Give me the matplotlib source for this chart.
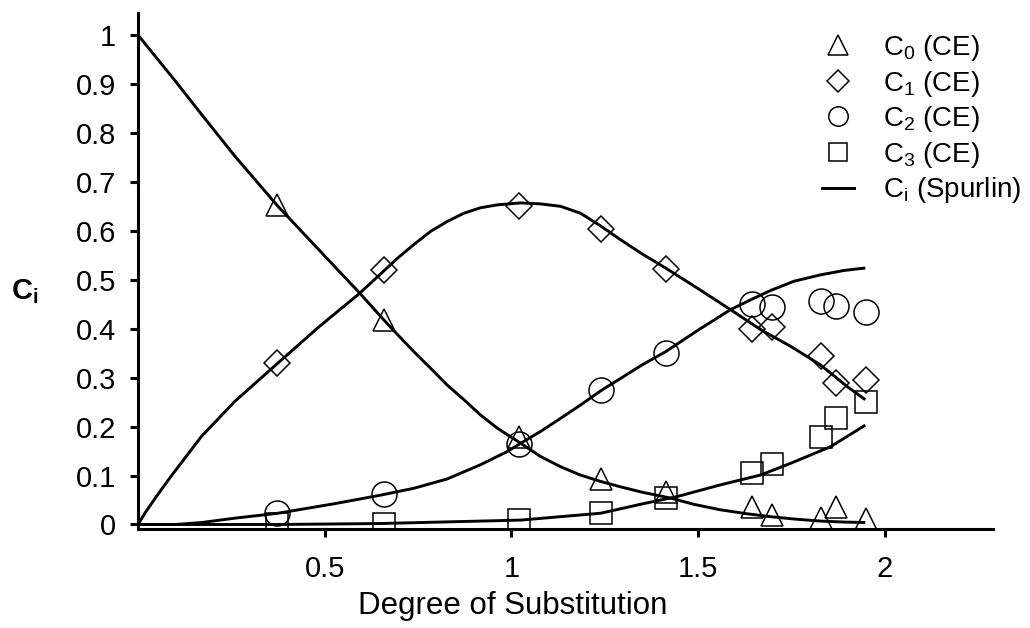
import matplotlib
matplotlib.use("Agg")
import matplotlib.pyplot as plt
from matplotlib.lines import Line2D

plt.rcParams['font.family'] = ['Liberation Sans', 'DejaVu Sans']
plt.rcParams['mathtext.fontset'] = 'custom'
plt.rcParams['mathtext.rm'] = 'Liberation Sans'
plt.rcParams['mathtext.it'] = 'Liberation Sans:italic'
plt.rcParams['mathtext.bf'] = 'Liberation Sans:bold'

# ---- measured data (CE) ----
ds = [0.373, 0.659, 1.020, 1.241, 1.413, 1.645, 1.697, 1.830, 1.870, 1.950]
c0_ce = [0.653, 0.417, 0.178, 0.092, 0.067, 0.036, 0.019, 0.013, 0.036, 0.011]
c1_ce = [0.330, 0.520, 0.650, 0.604, 0.522, 0.399, 0.403, 0.345, 0.289, 0.296]
c2_ce = [0.023, 0.062, 0.164, 0.274, 0.351, 0.451, 0.445, 0.457, 0.447, 0.435]
c3_ce = [0.000, 0.002, 0.009, 0.024, 0.054, 0.105, 0.123, 0.178, 0.217, 0.251]

# ---- Spurlin model curves ----
sp_c0_x = [0.0, 0.05, 0.10, 0.17, 0.26, 0.375, 0.47, 0.56, 0.59, 0.65, 0.695, 0.739,
           0.784, 0.828, 0.873, 0.917, 0.962, 1.025, 1.078, 1.132, 1.185, 1.239,
           1.292, 1.35, 1.426, 1.49, 1.56, 1.63, 1.694, 1.76, 1.828, 1.89, 1.948]
sp_c0_y = [1.0, 0.953, 0.906, 0.838, 0.752, 0.650, 0.573, 0.500, 0.476, 0.425, 0.388, 0.353,
           0.319, 0.285, 0.255, 0.224, 0.197, 0.166, 0.139, 0.118, 0.101, 0.088,
           0.077, 0.066, 0.054, 0.041, 0.030, 0.022, 0.016, 0.011, 0.007, 0.005, 0.004]

sp_c1_x = [0.0, 0.02, 0.05, 0.085, 0.17, 0.26, 0.375, 0.485, 0.59, 0.65, 0.695, 0.739,
           0.784, 0.828, 0.873, 0.917, 0.962, 1.025, 1.078, 1.132, 1.185, 1.239,
           1.292, 1.35, 1.413, 1.498, 1.587, 1.668, 1.748, 1.828, 1.899, 1.948]
sp_c1_y = [0.0, 0.025, 0.058, 0.095, 0.180, 0.252, 0.330, 0.404, 0.470, 0.512, 0.544, 0.572,
           0.599, 0.619, 0.636, 0.647, 0.653, 0.657, 0.655, 0.650, 0.636, 0.610,
           0.582, 0.553, 0.524, 0.483, 0.439, 0.398, 0.364, 0.326, 0.282, 0.255]

sp_c2_x = [0.0, 0.10, 0.17, 0.26, 0.375, 0.53, 0.65, 0.739, 0.828, 0.917, 0.989, 1.025,
           1.078, 1.132, 1.185, 1.243, 1.30, 1.35, 1.413, 1.50, 1.587, 1.649, 1.694,
           1.757, 1.828, 1.891, 1.948]
sp_c2_y = [0.0, 0.0, 0.004, 0.013, 0.023, 0.043, 0.060, 0.074, 0.093, 0.122, 0.149, 0.166,
           0.190, 0.217, 0.244, 0.275, 0.302, 0.326, 0.353, 0.397, 0.439, 0.462, 0.478,
           0.497, 0.510, 0.519, 0.524]

sp_c3_x = [0.0, 0.375, 0.65, 1.025, 1.239, 1.292, 1.35, 1.444, 1.56, 1.667, 1.748,
           1.855, 1.948]
sp_c3_y = [0.0, 0.0, 0.002, 0.009, 0.023, 0.032, 0.042, 0.057, 0.081, 0.101, 0.125,
           0.159, 0.203]

x_ticks = [0.5, 1.0, 1.5, 2.0]
x_tick_labels = ['0.5', '1', '1.5', '2']
y_ticks = [0, 0.1, 0.2, 0.3, 0.4, 0.5, 0.6, 0.7, 0.8, 0.9, 1.0]
y_tick_labels = ['0', '0.1', '0.2', '0.3', '0.4', '0.5', '0.6', '0.7', '0.8', '0.9', '1']

legend_labels = [r'C$_{0}$ (CE)', r'C$_{1}$ (CE)', r'C$_{2}$ (CE)', r'C$_{3}$ (CE)',
                 r'C$_{\mathrm{i}}$ (Spurlin)']

W, H = 1030, 628
fig = plt.figure(figsize=(W / 100, H / 100), dpi=100)
ax = fig.add_axes([138 / W, (H - 529) / H, 855 / W, 516 / H])

lw = 2.1
for xs, ys in [(sp_c0_x, sp_c0_y), (sp_c1_x, sp_c1_y), (sp_c2_x, sp_c2_y), (sp_c3_x, sp_c3_y)]:
    ax.plot(xs, ys, color='black', lw=lw, solid_joinstyle='round', solid_capstyle='butt', zorder=2)

mew = 1.1
ax.plot(ds, c0_ce, ls='none', marker='^', ms=16.5, mfc='none', mec='black', mew=mew, zorder=3)
ax.plot(ds, c1_ce, ls='none', marker='D', ms=13.5, mfc='none', mec='black', mew=mew, zorder=3)
ax.plot(ds, c2_ce, ls='none', marker='o', ms=18, mfc='none', mec='black', mew=mew, zorder=3)
ax.plot(ds, c3_ce, ls='none', marker='s', ms=16, mfc='none', mec='black', mew=mew, zorder=3)

ax.set_xlim(0, 2.29)
ax.set_ylim(-0.0092, 1.045)

for s in ['top', 'right']:
    ax.spines[s].set_visible(False)
for s in ['left', 'bottom']:
    ax.spines[s].set_linewidth(2.2)

ax.set_xticks(x_ticks)
ax.set_xticklabels(x_tick_labels)
ax.set_yticks(y_ticks)
ax.set_yticklabels(y_tick_labels)
ax.tick_params(axis='both', direction='out', length=6, width=2.2, labelsize=21)
ax.tick_params(axis='y', pad=10)
ax.tick_params(axis='x', pad=13)

ax.set_xlabel('Degree of Substitution', fontsize=22.5)
ax.xaxis.set_label_coords((513 - 138) / 855, -(591 - 529) / 516)
ax.set_ylabel(r'$\mathbf{C}_{\mathbf{i}}$', fontsize=21, rotation=0, ha='center', va='center')
ax.yaxis.set_label_coords((25 - 138) / 855, (529 - 292) / 516)

handles = [
    Line2D([], [], ls='none', marker='^', ms=15, mfc='none', mec='black', mew=mew),
    Line2D([], [], ls='none', marker='D', ms=11, mfc='none', mec='black', mew=mew),
    Line2D([], [], ls='none', marker='o', ms=14, mfc='none', mec='black', mew=mew),
    Line2D([], [], ls='none', marker='s', ms=12.5, mfc='none', mec='black', mew=mew),
    Line2D([], [], color='black', lw=lw),
]
ax.legend(handles, legend_labels, loc='upper left',
          bbox_to_anchor=(822 / W, 1 - 33 / H), bbox_transform=fig.transFigure,
          frameon=False, borderpad=0, borderaxespad=0, handlelength=1.15,
          handletextpad=1.05, labelspacing=0.2, fontsize=20)

fig.savefig('out.png', dpi=100)
